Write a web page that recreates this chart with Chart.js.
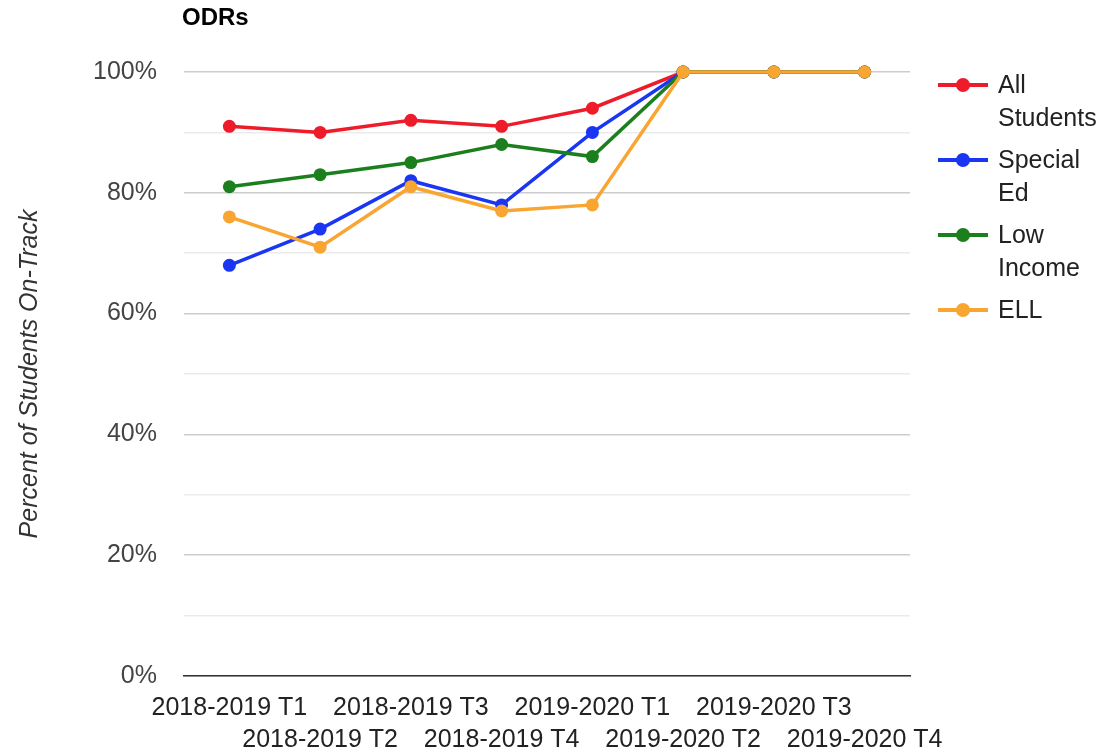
<!DOCTYPE html>
<html>
<head>
<meta charset="utf-8">
<script src="https://cdn.jsdelivr.net/npm/chart.js@4/dist/chart.umd.min.js"></script>
<style>
  html, body { margin: 0; padding: 0; background: #fff; }
  #wrap { position: relative; width: 1103px; height: 753px; font-family: "Liberation Sans", Arial, sans-serif; }
  #c { position: absolute; left: 0; top: 0; }
  #title { position: absolute; left: 182px; top: 3px; font-size: 24px; font-weight: bold; color: #000; }
  #legend { position: absolute; left: 938px; top: 68px; font-size: 25px; color: #222; }
  .entry { position: relative; padding-left: 60px; line-height: 33px; margin-bottom: 9px; }
  .mk { position: absolute; left: 0; top: 15px; width: 50px; height: 4px; }
  .mk span { position: absolute; left: 18px; top: -5px; width: 14px; height: 14px; border-radius: 50%; }
</style>
</head>
<body>
<div id="wrap">
  <canvas id="c" width="1103" height="753"></canvas>
  <div id="title">ODRs</div>
  <div id="legend"></div>
</div>
<script>
const categories = ["2018-2019 T1","2018-2019 T2","2018-2019 T3","2018-2019 T4","2019-2020 T1","2019-2020 T2","2019-2020 T3","2019-2020 T4"];
const allStudents = [91, 90, 92, 91, 94, 100, 100, 100];
const specialEd   = [68, 74, 82, 78, 90, 100, 100, 100];
const lowIncome   = [81, 83, 85, 88, 86, 100, 100, 100];
const ell         = [76, 71, 81, 77, 78, 100, 100, 100];
const seriesNames = [["All","Students"],["Special","Ed"],["Low","Income"],["ELL"]];
const colors = ["#ee1c2b", "#1a36f2", "#1b7f1e", "#f8a532"];
const yTicks = [0, 20, 40, 60, 80, 100];

const seriesData = [allStudents, specialEd, lowIncome, ell];
const datasets = seriesData.map((d, i) => ({
  label: seriesNames[i].join(" "),
  data: d,
  borderColor: colors[i],
  backgroundColor: colors[i],
  pointBackgroundColor: colors[i],
  pointBorderColor: colors[i],
  borderWidth: 3.5,
  pointRadius: 6.5,
  pointBorderWidth: 0,
  tension: 0,
  clip: false,
  order: 3 - i
}));

const labels = categories.map((c, i) => i % 2 === 0 ? [c] : ["", c]);

new Chart(document.getElementById("c"), {
  type: "line",
  data: { labels, datasets },
  options: {
    responsive: false,
    animation: false,
    events: [],
    layout: { padding: { top: 72, right: 193, left: 0, bottom: 0 } },
    plugins: { legend: { display: false }, title: { display: false }, tooltip: { enabled: false } },
    scales: {
      x: {
        offset: true,
        grid: { display: false, drawTicks: false },
        border: { display: true, color: "#333", width: 1.5 },
        ticks: {
          autoSkip: false, maxRotation: 0, minRotation: 0, padding: 16,
          color: "#222",
          font: { family: "Liberation Sans, Arial, sans-serif", size: 25, lineHeight: 1.28 }
        },
        afterFit: s => { s.height = 77; }
      },
      y: {
        min: 0, max: 100,
        border: { display: false },
        grid: {
          drawTicks: false,
          color: ctx => (ctx.tick && ctx.tick.value % 20 === 0) ? "#cccccc" : "#ebebeb",
          lineWidth: 1.5
        },
        ticks: {
          stepSize: 10, padding: 27, color: "#444",
          font: { family: "Liberation Sans, Arial, sans-serif", size: 25 },
          callback: v => yTicks.includes(v) ? v + "%" : ""
        },
        title: {
          display: true, text: "Percent of Students On-Track", color: "#333",
          font: { family: "Liberation Sans, Arial, sans-serif", size: 25, style: "italic" },
          padding: { top: 15, bottom: 0 }
        },
        afterFit: s => { s.width = 184; }
      }
    }
  }
});

const leg = document.getElementById("legend");
seriesNames.forEach((n, i) => {
  const e = document.createElement("div");
  e.className = "entry";
  e.innerHTML = `<div class="mk" style="background:${colors[i]}"><span style="background:${colors[i]}"></span></div>` + n.join("<br>");
  leg.appendChild(e);
});
</script>
</body>
</html>
